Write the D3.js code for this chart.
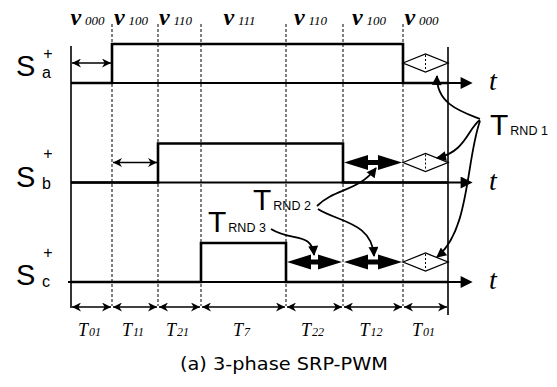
<!DOCTYPE html>
<html>
<head>
<meta charset="utf-8">
<script src="https://cdn.jsdelivr.net/npm/d3@7"></script>
<style>
  body { margin: 0; background: #fff; }
  svg { display: block; }
</style>
</head>
<body>
<div id="chart"></div>
<script>
// segment durations (arbitrary time units)
const durations = [41, 46, 43, 85, 57, 60, 45];
const segSubs = ['01', '11', '21', '7', '22', '12', '01'];
const vectorSubs = ['000', '100', '110', '111', '110', '100', '000'];
const phases = ['a', 'b', 'c'];
// switching edges as boundary index
const riseAt = [1, 2, 3];
const fallAt = [6, 5, 4];
// per phase, which segments carry which marker
const thinArrowSegs = [[0], [1], []];
const boldArrowSegs = [[], [5], [4, 5]];
const diamondSegs = [[6], [6], [6]];
const rndLabels = ['RND 1', 'RND 2', 'RND 3'];

const width = 557;
const height = 387;
const labelShift = [-7, 4, 3];

const bounds = [0];
durations.forEach(d => bounds.push(bounds[bounds.length - 1] + d));
const total = bounds[bounds.length - 1];

const x = d3.scaleLinear().domain([0, total]).range([71, 448]);
const y = d3.scalePoint().domain(phases).range([83, 282]);
const pulseH = 39;
const markY = p => y(p) - 20;
const segMid = i => (x(bounds[i]) + x(bounds[i + 1])) / 2;

const svg = d3.select('#chart').append('svg')
  .attr('width', width)
  .attr('height', height);

const defs = svg.append('defs');
defs.append('marker')
  .attr('id', 'thin')
  .attr('viewBox', '0 0 10 10')
  .attr('refX', 10).attr('refY', 5)
  .attr('markerUnits', 'userSpaceOnUse')
  .attr('markerWidth', 10).attr('markerHeight', 9)
  .attr('orient', 'auto-start-reverse')
  .append('path').attr('d', 'M0,0L10,5L0,10L3,5z').attr('fill', '#000');
defs.append('marker')
  .attr('id', 'curve')
  .attr('viewBox', '0 0 10 10')
  .attr('refX', 9).attr('refY', 5)
  .attr('markerUnits', 'userSpaceOnUse')
  .attr('markerWidth', 12).attr('markerHeight', 10)
  .attr('orient', 'auto')
  .append('path').attr('d', 'M0,0L10,5L0,10z').attr('fill', '#000');
defs.append('marker')
  .attr('id', 'axis')
  .attr('viewBox', '0 0 10 10')
  .attr('refX', 2).attr('refY', 5)
  .attr('markerUnits', 'userSpaceOnUse')
  .attr('markerWidth', 15).attr('markerHeight', 12)
  .attr('orient', 'auto')
  .append('path').attr('d', 'M0,0L10,5L0,10z').attr('fill', '#000');

// dashed boundary lines
svg.append('g')
  .attr('stroke', '#000')
  .attr('stroke-width', 1)
  .attr('stroke-dasharray', '3,2')
  .selectAll('line')
  .data(bounds.slice(1, -1))
  .enter().append('line')
    .attr('x1', d => x(d)).attr('x2', d => x(d))
    .attr('y1', 24).attr('y2', 306);

// outer solid frame lines
svg.append('line')
  .attr('x1', x(0)).attr('x2', x(0)).attr('y1', 46).attr('y2', 308)
  .attr('stroke', '#000').attr('stroke-width', 1.6);
svg.append('line')
  .attr('x1', x(total)).attr('x2', x(total)).attr('y1', 47).attr('y2', 315)
  .attr('stroke', '#000').attr('stroke-width', 1.6);

// top vector labels
const vl = svg.append('g')
  .attr('font-family', '"Liberation Serif", "Times New Roman", serif')
  .attr('font-style', 'italic')
  .selectAll('text')
  .data(vectorSubs)
  .enter().append('text')
    .attr('x', (d, i) => segMid(i) - 4)
    .attr('y', 25)
    .attr('text-anchor', 'middle');
vl.append('tspan').attr('font-size', 24).attr('font-weight', 'bold').text('\u03bd');
vl.append('tspan').attr('font-size', 13).attr('dx', 4).text(d => d);

// phase rows
phases.forEach((p, i) => {
  const base = y(p);
  const g = svg.append('g');

  // axis with arrow
  g.append('line')
    .attr('x1', x(0) - (i === 2 ? 3 : 0)).attr('x2', 463)
    .attr('y1', base).attr('y2', base)
    .attr('stroke', '#000').attr('stroke-width', 2)
    .attr('marker-end', 'url(#axis)');
  g.append('text')
    .attr('x', 489).attr('y', base + 7)
    .attr('font-family', '"Liberation Serif", "Times New Roman", serif')
    .attr('font-style', 'italic')
    .attr('font-size', 28)
    .text('t');

  // pulse
  const pulse = d3.path();
  pulse.moveTo(x(0), base);
  pulse.lineTo(x(bounds[riseAt[i]]), base);
  pulse.lineTo(x(bounds[riseAt[i]]), base - pulseH);
  pulse.lineTo(x(bounds[fallAt[i]]), base - pulseH);
  pulse.lineTo(x(bounds[fallAt[i]]), base);
  pulse.lineTo(x(total), base);
  g.append('path')
    .attr('d', pulse.toString())
    .attr('fill', 'none')
    .attr('stroke', '#000')
    .attr('stroke-width', 2.6);

  // S label
  const sy = base + labelShift[i];
  const lab = g.append('g').attr('font-family', '"Liberation Sans", Arial, sans-serif');
  lab.append('text').attr('x', 16).attr('y', sy).attr('font-size', 29).text('S');
  lab.append('text').attr('x', 48).attr('y', base - 24).attr('font-size', 16)
    .attr('text-anchor', 'middle').text('+');
  lab.append('text').attr('x', 42).attr('y', sy + 2).attr('font-size', 16).text(p);

  // thin double arrows
  g.selectAll('.thin').data(thinArrowSegs[i]).enter().append('line')
    .attr('x1', s => x(bounds[s]) + 1).attr('x2', s => x(bounds[s + 1]) - 1)
    .attr('y1', markY(p)).attr('y2', markY(p))
    .attr('stroke', '#000').attr('stroke-width', 1.4)
    .attr('marker-start', 'url(#thin)').attr('marker-end', 'url(#thin)');

  // bold double arrows
  g.selectAll('.bold').data(boldArrowSegs[i]).enter().append('path')
    .attr('d', s => {
      const a = x(bounds[s]) + 1, b = x(bounds[s + 1]) - 1, m = markY(p);
      const L = 24, H = 7.5, h = 2.5;
      return `M${a},${m}L${a + L},${m - H}L${a + L},${m - h}L${b - L},${m - h}` +
        `L${b - L},${m - H}L${b},${m}L${b - L},${m + H}L${b - L},${m + h}` +
        `L${a + L},${m + h}L${a + L},${m + H}Z`;
    })
    .attr('fill', '#000');

  // hollow diamonds
  const dg = g.selectAll('.dia').data(diamondSegs[i]).enter().append('g');
  dg.append('path')
    .attr('d', s => {
      const a = x(bounds[s]), b = x(bounds[s + 1]), m = markY(p), c = (a + b) / 2;
      return `M${a},${m}L${c},${m - 9}L${b},${m}L${c},${m + 9}Z`;
    })
    .attr('fill', 'none').attr('stroke', '#000').attr('stroke-width', 1.3);
  dg.append('line')
    .attr('x1', s => segMid(s)).attr('x2', s => segMid(s))
    .attr('y1', markY(p) - 8).attr('y2', markY(p) + 8)
    .attr('stroke', '#000').attr('stroke-width', 1).attr('stroke-dasharray', '2,2');
});

// bottom duration arrows and labels
const by = 307;
svg.append('g').selectAll('line')
  .data(durations)
  .enter().append('line')
    .attr('x1', (d, i) => x(bounds[i]) + 1).attr('x2', (d, i) => x(bounds[i + 1]) - 1)
    .attr('y1', by).attr('y2', by)
    .attr('stroke', '#000').attr('stroke-width', 1.4)
    .attr('marker-start', 'url(#thin)').attr('marker-end', 'url(#thin)');

const tl = svg.append('g')
  .attr('font-family', '"Liberation Serif", "Times New Roman", serif')
  .attr('font-style', 'italic')
  .selectAll('text')
  .data(segSubs)
  .enter().append('text')
    .attr('x', (d, i) => segMid(i) - 2)
    .attr('y', 336)
    .attr('text-anchor', 'middle');
tl.append('tspan').attr('font-size', 18).text('T');
tl.append('tspan').attr('font-size', 12).attr('dx', 1).text(d => d);

// T_RND annotations
const rndPos = [[490, 135], [253, 210], [208, 232]];
const rnd = svg.append('g').attr('font-family', '"Liberation Sans", Arial, sans-serif');
rndLabels.forEach((lbl, i) => {
  const t = rnd.append('text').attr('x', rndPos[i][0]).attr('y', rndPos[i][1]);
  t.append('tspan').attr('font-size', 30).text('T');
  t.append('tspan').attr('font-size', 12.5).attr('dx', 2).text(lbl);
});

// curved pointer arrows
const curves = [
  [[480, 119], [462, 112], [436, 104], [437, 76]],
  [[480, 120], [468, 128], [466, 152], [437, 158]],
  [[480, 121], [466, 160], [470, 230], [437, 257]],
  [[317, 206], [335, 188], [358, 192], [376, 168]],
  [[318, 209], [338, 222], [372, 222], [374, 256]],
  [[271, 229], [292, 242], [312, 232], [314, 255]]
];
svg.append('g').selectAll('path')
  .data(curves)
  .enter().append('path')
    .attr('d', c => {
      const pth = d3.path();
      pth.moveTo(c[0][0], c[0][1]);
      pth.bezierCurveTo(c[1][0], c[1][1], c[2][0], c[2][1], c[3][0], c[3][1]);
      return pth.toString();
    })
    .attr('fill', 'none').attr('stroke', '#000').attr('stroke-width', 1.8)
    .attr('marker-end', 'url(#curve)');

// caption
svg.append('text')
  .attr('x', 180).attr('y', 370)
  .attr('font-family', '"DejaVu Sans Condensed", "DejaVu Sans", sans-serif')
  .attr('font-size', 17)
  .attr('textLength', 208)
  .attr('lengthAdjust', 'spacingAndGlyphs')
  .text('(a) 3-phase SRP-PWM');
</script>
</body>
</html>
